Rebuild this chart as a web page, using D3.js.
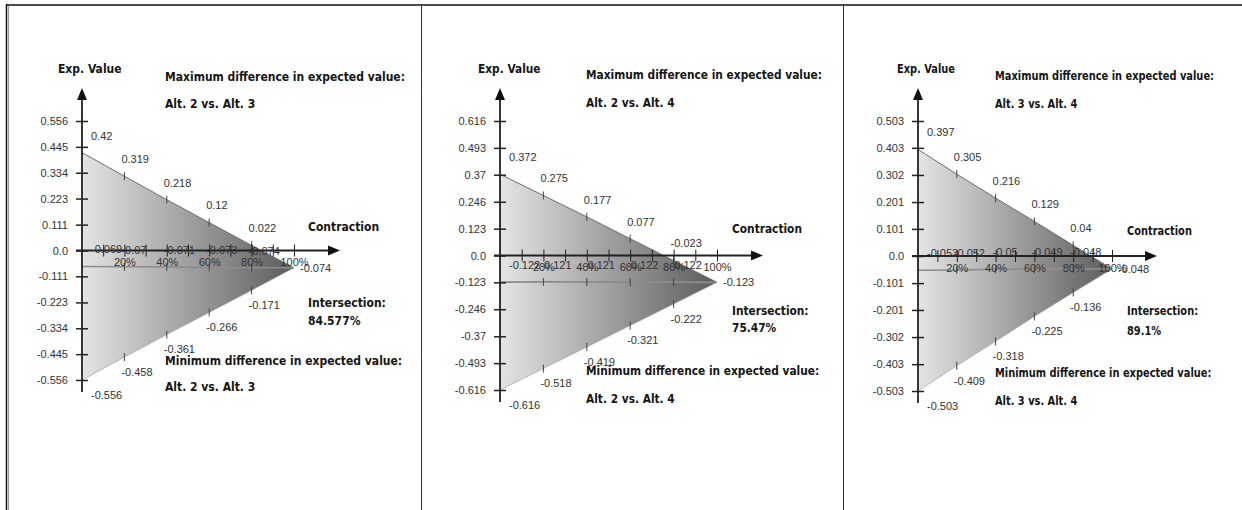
<!DOCTYPE html>
<html lang="en">
<head>
<meta charset="UTF-8"/>
<title>Expected value difference vs. contraction</title>
<script src="https://d3js.org/d3.v7.min.js"></script>
<style>
body { margin: 0; background: #fff; }
.bold { font-family: "Liberation Sans Narrow", "Arial Narrow", "DejaVu Sans Condensed", sans-serif; font-weight: bold; font-size: 13px; fill: #151515; }
.small { font-family: "Liberation Sans", Arial, sans-serif; font-size: 11px; fill: #333; }
</style>
</head>
<body>
<script>
// contraction steps (%)
var pcts = [0, 20, 40, 60, 80, 100];
var axisPcts = [10, 20, 30, 40, 50, 60, 70, 80, 90, 100];

// Alt. 2 vs Alt. 3
var maxDiff1 = [0.42, 0.319, 0.218, 0.12, 0.022, -0.074];
var minDiff1 = [-0.556, -0.458, -0.361, -0.266, -0.171, -0.074];
var midDiff1 = [-0.069, -0.07, -0.071, -0.073, -0.074, -0.074];
var yTicks1 = [0.556, 0.445, 0.334, 0.223, 0.111, 0, -0.111, -0.223, -0.334, -0.445, -0.556];

// Alt. 2 vs Alt. 4
var maxDiff2 = [0.372, 0.275, 0.177, 0.077, -0.023, -0.123];
var minDiff2 = [-0.616, -0.518, -0.419, -0.321, -0.222, -0.123];
var midDiff2 = [-0.122, -0.121, -0.121, -0.122, -0.122, -0.123];
var yTicks2 = [0.616, 0.493, 0.37, 0.246, 0.123, 0, -0.123, -0.246, -0.37, -0.493, -0.616];

// Alt. 3 vs Alt. 4
var maxDiff3 = [0.397, 0.305, 0.216, 0.129, 0.04, -0.048];
var minDiff3 = [-0.503, -0.409, -0.318, -0.225, -0.136, -0.048];
var midDiff3 = [-0.053, -0.052, -0.05, -0.049, -0.048, -0.048];
var yTicks3 = [0.503, 0.403, 0.302, 0.201, 0.101, 0, -0.101, -0.201, -0.302, -0.403, -0.503];

var pairs = ["Alt. 2 vs. Alt. 3", "Alt. 2 vs. Alt. 4", "Alt. 3 vs. Alt. 4"];
var intersections = ["84.577%", "75.47%", "89.1%"];

var w = 1242, h = 510;

// pixel layout of each panel
var layout = [
    {ax: 82,  top: 121, bot: 380, len: 212, tip: 340,  expX: 58,  tX: 165, tY: 76, aY: 103, cX: 308,  cY: 226, iY: 302, vY: 320, mY: 360, m2Y: 386, tW: 240},
    {ax: 500, top: 121, bot: 390, len: 217, tip: 763,  expX: 478, tX: 586, tY: 74, aY: 102, cX: 732,  cY: 228, iY: 310, vY: 327, mY: 370, m2Y: 398, tW: 236},
    {ax: 918, top: 121, bot: 391, len: 194, tip: 1157, expX: 897, tX: 995, tY: 75, aY: 103, cX: 1127, cY: 230, iY: 310, vY: 330, mY: 372, m2Y: 400, tW: 219}
];

var panels = [
    {maxV: maxDiff1, minV: minDiff1, midV: midDiff1, ticks: yTicks1},
    {maxV: maxDiff2, minV: minDiff2, midV: midDiff2, ticks: yTicks2},
    {maxV: maxDiff3, minV: minDiff3, midV: midDiff3, ticks: yTicks3}
];

var svg = d3.select("body").append("svg")
    .attr("width", w)
    .attr("height", h);

svg.append("rect").attr("width", w).attr("height", h).attr("fill", "#fff");

var defs = svg.append("defs");

function fmt(v) { return v === 0 ? "0.0" : String(v); }

panels.forEach(function(p, k) {
    var L = layout[k];
    var g = svg.append("g");

    var x = d3.scaleLinear().domain([0, 100]).range([L.ax, L.ax + L.len]);
    var y = d3.scaleLinear()
        .domain([p.ticks[p.ticks.length - 1], p.ticks[0]])
        .range([L.bot, L.top]);

    var rows = pcts.map(function(c, i) {
        return {p: c, max: p.maxV[i], min: p.minV[i], mid: p.midV[i]};
    });

    var grad = defs.append("linearGradient")
        .attr("id", "grad" + k)
        .attr("gradientUnits", "userSpaceOnUse")
        .attr("x1", x(0)).attr("x2", x(100))
        .attr("y1", 0).attr("y2", 0);
    grad.append("stop").attr("offset", "0%").attr("stop-color", "#e4e4e4");
    grad.append("stop").attr("offset", "100%").attr("stop-color", "#5c5c5c");

    // triangle between max and min
    g.append("path")
        .datum(rows)
        .attr("d", d3.area()
            .x(function(d) { return x(d.p); })
            .y0(function(d) { return y(d.min); })
            .y1(function(d) { return y(d.max); }))
        .attr("fill", "url(#grad" + k + ")");

    var series = [
        {key: "max", color: "#6e6e6e", width: 1},
        {key: "min", color: "#9a9a9a", width: 0.6},
        {key: "mid", color: "#8c8c8c", width: 1.6}
    ];

    series.forEach(function(s) {
        g.append("path")
            .datum(rows)
            .attr("d", d3.line()
                .x(function(d) { return x(d.p); })
                .y(function(d) { return y(d[s.key]); }))
            .attr("fill", "none")
            .attr("stroke", s.color)
            .attr("stroke-width", s.width);

        g.selectAll(null)
            .data(rows.slice(1, 5))
            .enter()
            .append("line")
            .attr("x1", function(d) { return x(d.p); })
            .attr("x2", function(d) { return x(d.p); })
            .attr("y1", function(d) { return y(d[s.key]) - 4; })
            .attr("y2", function(d) { return y(d[s.key]) + 4; })
            .attr("stroke", "#444")
            .attr("stroke-width", 1);
    });

    // y axis
    var yAxis = g.append("g")
        .attr("transform", "translate(" + L.ax + ",0)")
        .call(d3.axisLeft(y).tickValues(p.ticks).tickFormat(fmt).tickSize(6));
    yAxis.select(".domain").remove();
    yAxis.selectAll(".tick line").attr("x2", 6).attr("x1", -6).attr("stroke", "#222").attr("stroke-width", 1.5);
    yAxis.selectAll(".tick text").attr("x", -14).attr("class", "small")
        .attr("font-family", null).attr("font-size", null).attr("fill", null);

    g.append("line")
        .attr("x1", L.ax).attr("x2", L.ax)
        .attr("y1", y(p.ticks[p.ticks.length - 1]) + 12).attr("y2", 98)
        .attr("stroke", "#222").attr("stroke-width", 1.8);
    g.append("path")
        .attr("d", "M" + L.ax + ",88 L" + (L.ax - 5) + ",100 L" + (L.ax + 5) + ",100 Z")
        .attr("fill", "#111");

    // x axis
    var xAxis = g.append("g")
        .attr("transform", "translate(0," + y(0) + ")")
        .call(d3.axisBottom(x).tickValues(axisPcts)
            .tickFormat(function(d) { return d % 20 === 0 ? d + "%" : ""; })
            .tickSize(6));
    xAxis.select(".domain").remove();
    xAxis.selectAll(".tick line").attr("y1", -6).attr("y2", 6).attr("stroke", "#222");
    xAxis.selectAll(".tick text").attr("y", 8).attr("class", "small")
        .attr("font-family", null).attr("font-size", null).attr("fill", null);

    g.append("line")
        .attr("x1", L.ax - 6).attr("x2", L.tip - 8)
        .attr("y1", y(0)).attr("y2", y(0))
        .attr("stroke", "#222").attr("stroke-width", 1.8);
    g.append("path")
        .attr("d", "M" + L.tip + "," + y(0) + " L" + (L.tip - 12) + "," + (y(0) - 5) + " L" + (L.tip - 12) + "," + (y(0) + 5) + " Z")
        .attr("fill", "#111");

    // value labels on the lines
    var labelSets = [{key: "max", dy: -17}, {key: "mid", dy: -17}, {key: "min", dy: 15}];
    labelSets.forEach(function(s) {
        g.selectAll(null)
            .data(rows.slice(0, 5))
            .enter()
            .append("text")
            .attr("class", "small")
            .attr("x", function(d, i) { return i === 0 ? x(d.p) + 9 : x(d.p) - 3; })
            .attr("y", function(d) { return y(d[s.key]) + s.dy; })
            .attr("dy", "0.35em")
            .text(function(d) { return fmt(d[s.key]); });
    });
    g.append("text")
        .attr("class", "small")
        .attr("x", x(100) + 6)
        .attr("y", y(rows[5].max))
        .attr("dy", "0.35em")
        .text(fmt(rows[5].max));

    // headings
    var heads = [
        {t: "Exp. Value", x: L.expX, y: 68},
        {t: "Maximum difference in expected value:", x: L.tX, y: L.tY},
        {t: pairs[k], x: L.tX, y: L.aY},
        {t: "Contraction", x: L.cX, y: L.cY},
        {t: "Intersection:", x: L.cX, y: L.iY},
        {t: intersections[k], x: L.cX, y: L.vY},
        {t: "Minimum difference in expected value:", x: L.tX, y: L.mY},
        {t: pairs[k], x: L.tX, y: L.m2Y}
    ];
    var ht = g.selectAll(null)
        .data(heads)
        .enter()
        .append("text")
        .attr("class", "bold")
        .attr("x", function(d) { return d.x; })
        .attr("y", function(d) { return d.y; })
        .attr("dy", "0.35em")
        .text(function(d) { return d.t; });
    var nat = ht.nodes()[1].getComputedTextLength();
    var f = L.tW / nat;
    ht.each(function() {
        var len = this.getComputedTextLength();
        d3.select(this).attr("textLength", len * f).attr("lengthAdjust", "spacingAndGlyphs");
    });
});

// frame
svg.append("line").attr("x1", 6).attr("x2", w).attr("y1", 5).attr("y2", 5)
    .attr("stroke", "#111").attr("stroke-width", 1.5);
svg.append("line").attr("x1", 6.5).attr("x2", 6.5).attr("y1", 4).attr("y2", h)
    .attr("stroke", "#111").attr("stroke-width", 1.5);
svg.append("line").attr("x1", 8.5).attr("x2", 8.5).attr("y1", 6).attr("y2", h)
    .attr("stroke", "#999").attr("stroke-width", 1);
[421.5, 843.5].forEach(function(xx) {
    svg.append("line").attr("x1", xx).attr("x2", xx).attr("y1", 5).attr("y2", h)
        .attr("stroke", "#333").attr("stroke-width", 1);
});
</script>
</body>
</html>
